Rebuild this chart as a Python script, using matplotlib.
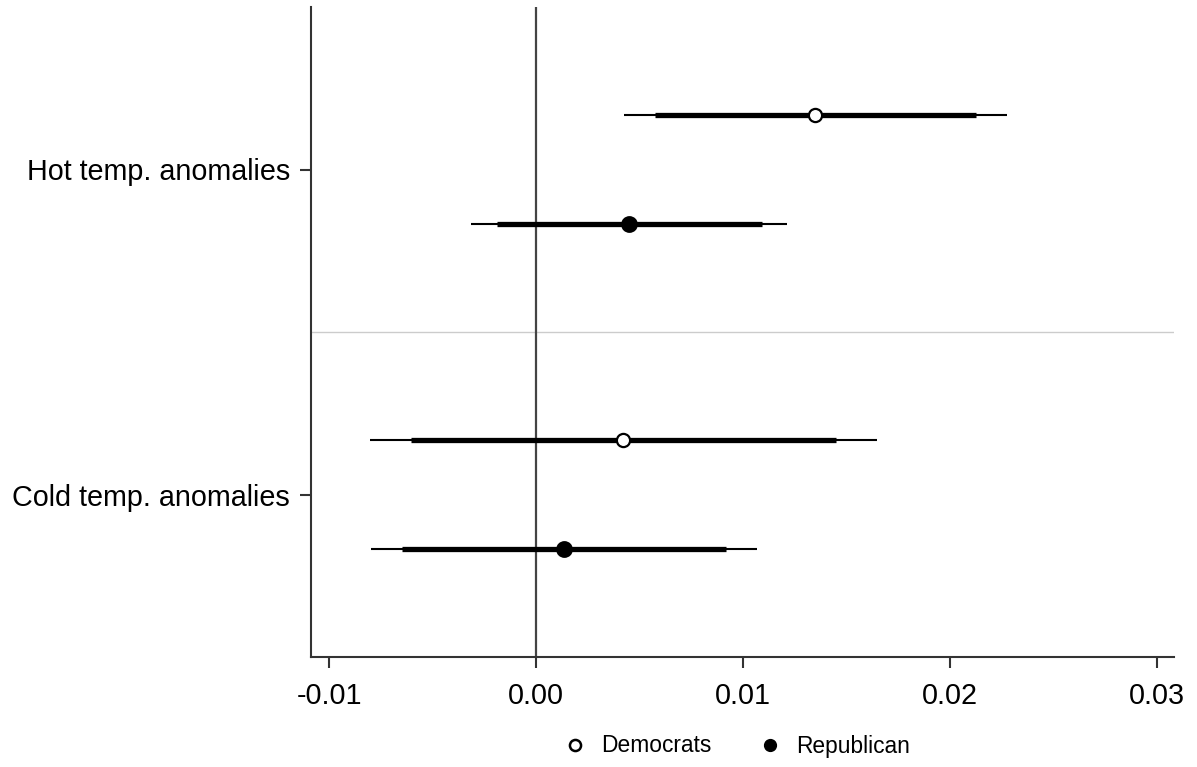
import matplotlib
matplotlib.use("Agg")
import matplotlib.pyplot as plt
from matplotlib.lines import Line2D

plt.rcParams['font.family'] = ['Liberation Sans', 'DejaVu Sans']

categories = ["Hot temp. anomalies", "Cold temp. anomalies"]
groups = ["Democrats", "Republican"]
# estimates and intervals: [Hot, Cold]
dem_est = [0.01350, 0.00421]
dem_ci95 = [(0.00427, 0.02274), (-0.00804, 0.01646)]
dem_ci90 = [(0.00577, 0.02126), (-0.00605, 0.01451)]
rep_est = [0.00449, 0.00135]
rep_ci95 = [(-0.00314, 0.01213), (-0.00797, 0.01068)]
rep_ci90 = [(-0.00188, 0.01090), (-0.00645, 0.00920)]
xticks = [-0.01, 0.00, 0.01, 0.02, 0.03]
xticklabels = ["-0.01", "0.00", "0.01", "0.02", "0.03"]

fig = plt.figure(figsize=(11.97, 7.67), dpi=100)
ax = fig.add_axes([311/1197, 1-657/767, (1174-311)/1197, (657-7)/767])

offset = 1/6
series = [
    (dem_est, dem_ci95, dem_ci90, -offset, 'white'),
    (rep_est, rep_ci95, rep_ci90, offset, 'black'),
]
for est, c95, c90, off, fc in series:
    for i in range(len(categories)):
        y = i + 1 + off
        ax.plot(c95[i], [y, y], color='black', lw=1.5, solid_capstyle='butt', zorder=3)
        ax.plot(c90[i], [y, y], color='black', lw=3.8, solid_capstyle='butt', zorder=3)
        ms = 9.5 if fc == 'white' else 10.5
        ax.plot([est[i]], [y], marker='o', ms=ms, mfc=fc, mec='black', mew=1.6, zorder=4)

ax.axvline(0, color='#444444', lw=1.6, zorder=2)
ax.axhline(1.5, color='#cccccc', lw=1.0, zorder=1)

ax.set_xlim(-0.01087, 0.03082)
ax.set_ylim(2.5, 0.5)
ax.set_yticks([1, 2])
ax.set_yticklabels(categories, fontsize=20.7)
ax.set_xticks(xticks)
ax.set_xticklabels(xticklabels, fontsize=20.7)
ax.tick_params(axis='both', direction='out', length=8, width=1.5, color='#333333')
ax.tick_params(axis='y', pad=7)
ax.tick_params(axis='x', pad=10)

for s in ['top', 'right']:
    ax.spines[s].set_visible(False)
for s in ['left', 'bottom']:
    ax.spines[s].set_linewidth(1.5)
    ax.spines[s].set_color('#333333')

handles = [
    Line2D([], [], ls='none', marker='o', ms=8, mfc='white', mec='black', mew=1.8),
    Line2D([], [], ls='none', marker='o', ms=8.5, mfc='black', mec='black'),
]
fig.legend(handles, groups, loc='center', bbox_to_anchor=(738/1197, 1-746/767),
           ncol=2, frameon=False, fontsize=16.4, handletextpad=0.75, columnspacing=2.2,
           handlelength=0.8)

fig.savefig("out.png", dpi=100)
